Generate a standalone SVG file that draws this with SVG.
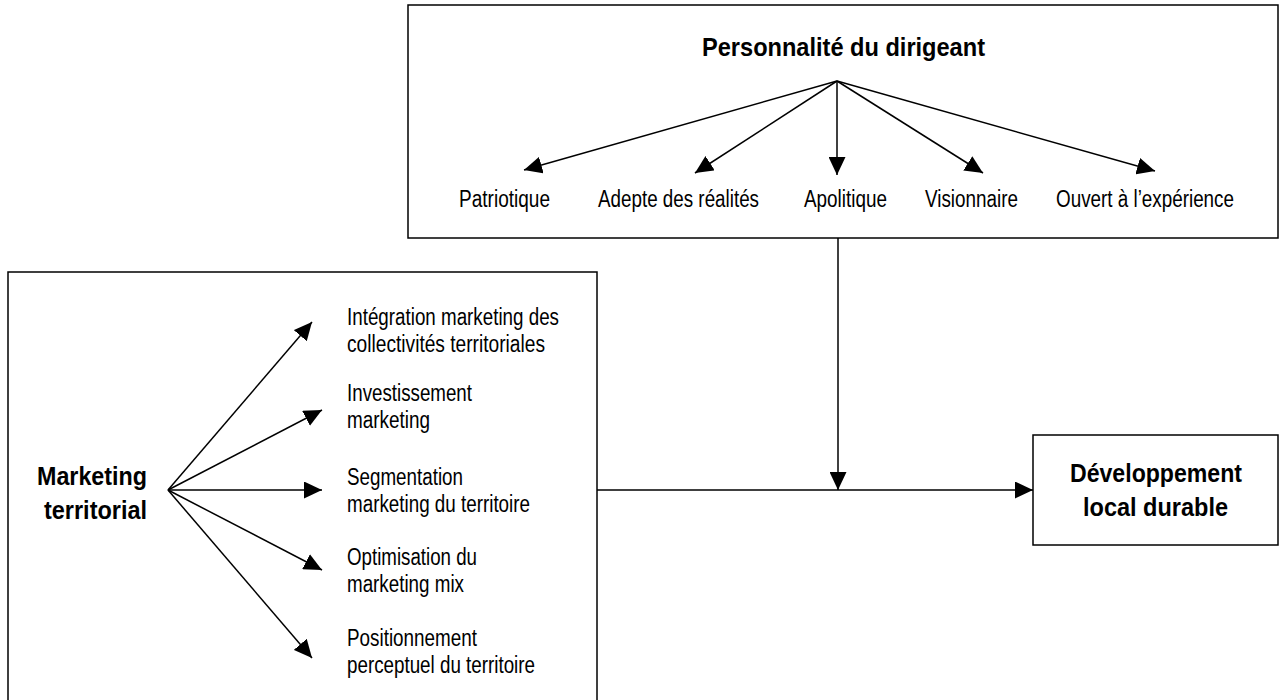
<svg xmlns="http://www.w3.org/2000/svg" width="1280" height="700" viewBox="0 0 1280 700">
<style>
.box{fill:#fff;stroke:#000;stroke-width:1.5}
.ln{stroke:#000;stroke-width:1.5;fill:none}
.t{font-family:"Liberation Sans",Arial,sans-serif;font-size:23px;fill:#000}
.b{font-family:"Liberation Sans",Arial,sans-serif;font-size:25px;font-weight:bold;fill:#000}
</style>
<defs>
<marker id="ah" markerWidth="18" markerHeight="17" refX="18" refY="8.5" orient="auto" markerUnits="userSpaceOnUse">
<path d="M0,0 L18,8.5 L0,17 z" fill="#000"/>
</marker>
</defs>
<rect x="0" y="0" width="1280" height="700" fill="#fff"/>
<g id="personnalite">
<rect class="box" x="408" y="5" width="870" height="233"/>
<text class="b" x="702" y="56" textLength="283" lengthAdjust="spacingAndGlyphs">Personnalité du dirigeant</text>
<text class="t" x="459" y="207" textLength="91" lengthAdjust="spacingAndGlyphs">Patriotique</text>
<text class="t" x="598" y="207" textLength="161" lengthAdjust="spacingAndGlyphs">Adepte des réalités</text>
<text class="t" x="804" y="207" textLength="83" lengthAdjust="spacingAndGlyphs">Apolitique</text>
<text class="t" x="925" y="207" textLength="93" lengthAdjust="spacingAndGlyphs">Visionnaire</text>
<text class="t" x="1056" y="207" textLength="178" lengthAdjust="spacingAndGlyphs">Ouvert à l’expérience</text>
</g>
<g id="marketing">
<rect class="box" x="8" y="272" width="589" height="440"/>
<text class="b" x="37" y="485" textLength="110" lengthAdjust="spacingAndGlyphs">Marketing</text>
<text class="b" x="44" y="519" textLength="103" lengthAdjust="spacingAndGlyphs">territorial</text>
<text class="t" x="347" y="325" textLength="212" lengthAdjust="spacingAndGlyphs">Intégration marketing des</text>
<text class="t" x="347" y="352" textLength="198" lengthAdjust="spacingAndGlyphs">collectivités territoriales</text>
<text class="t" x="347" y="401" textLength="125" lengthAdjust="spacingAndGlyphs">Investissement</text>
<text class="t" x="347" y="428" textLength="83" lengthAdjust="spacingAndGlyphs">marketing</text>
<text class="t" x="347" y="485" textLength="116" lengthAdjust="spacingAndGlyphs">Segmentation</text>
<text class="t" x="347" y="512" textLength="183" lengthAdjust="spacingAndGlyphs">marketing du territoire</text>
<text class="t" x="347" y="565" textLength="130" lengthAdjust="spacingAndGlyphs">Optimisation du</text>
<text class="t" x="347" y="592" textLength="117" lengthAdjust="spacingAndGlyphs">marketing mix</text>
<text class="t" x="347" y="646" textLength="130" lengthAdjust="spacingAndGlyphs">Positionnement</text>
<text class="t" x="347" y="673" textLength="188" lengthAdjust="spacingAndGlyphs">perceptuel du territoire</text>
</g>
<g id="developpement">
<rect class="box" x="1033" y="435" width="245" height="110"/>
<text class="b" x="1070" y="482" textLength="172" lengthAdjust="spacingAndGlyphs">Développement</text>
<text class="b" x="1083" y="516" textLength="145" lengthAdjust="spacingAndGlyphs">local durable</text>
</g>
<g id="connectors">
<line class="ln" x1="837" y1="81" x2="524" y2="170" marker-end="url(#ah)"/>
<line class="ln" x1="837" y1="81" x2="695" y2="173" marker-end="url(#ah)"/>
<line class="ln" x1="837" y1="81" x2="837" y2="175" marker-end="url(#ah)"/>
<line class="ln" x1="837" y1="81" x2="983" y2="173" marker-end="url(#ah)"/>
<line class="ln" x1="837" y1="81" x2="1155" y2="171" marker-end="url(#ah)"/>
<line class="ln" x1="168" y1="490" x2="312" y2="322" marker-end="url(#ah)"/>
<line class="ln" x1="168" y1="490" x2="322" y2="410" marker-end="url(#ah)"/>
<line class="ln" x1="168" y1="490" x2="322" y2="490" marker-end="url(#ah)"/>
<line class="ln" x1="168" y1="490" x2="322" y2="570" marker-end="url(#ah)"/>
<line class="ln" x1="168" y1="490" x2="312" y2="658" marker-end="url(#ah)"/>
<line class="ln" x1="597" y1="490" x2="1033" y2="490" marker-end="url(#ah)"/>
<line class="ln" x1="838" y1="238" x2="838" y2="490" marker-end="url(#ah)"/>
</g>
</svg>
